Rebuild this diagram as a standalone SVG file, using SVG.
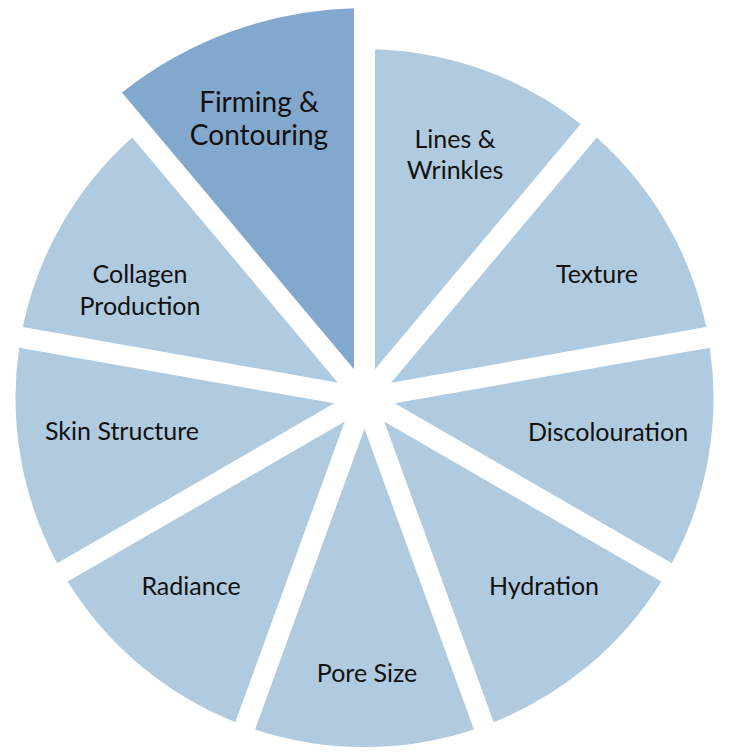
<svg xmlns="http://www.w3.org/2000/svg" width="731" height="754" viewBox="0 0 731 754">
<style>
.s{fill:#B0CBDF}
.hl{fill:#83A8CE}
text{font-family:Lato,"Liberation Sans",sans-serif;font-size:25px;fill:#111;text-anchor:middle}
.big{font-size:28px}
</style>
<rect width="731" height="754" fill="#fff"/>
<g id="lines-wrinkles"><path class="s" d="M375,369.15 L375,49.16 A349,349 0 0 1 580.69,124.02 Z"/><text x="455" y="148">Lines &amp;</text><text x="455" y="179">Wrinkles</text></g>
<g id="texture"><path class="s" d="M391.09,382.65 L596.77,137.52 A349,349 0 0 1 706.22,327.09 Z"/><text x="597" y="283">Texture</text></g>
<g id="discolouration"><path class="s" d="M394.73,403.33 L709.87,347.77 A349,349 0 0 1 671.86,563.33 Z"/><text x="608" y="441">Discolouration</text></g>
<g id="hydration"><path class="s" d="M384.23,421.52 L661.36,581.51 A349,349 0 0 1 493.68,722.21 Z"/><text x="544" y="595">Hydration</text></g>
<g id="pore-size"><path class="s" d="M364.5,428.7 L473.94,729.4 A349,349 0 0 1 255.06,729.4 Z"/><text x="367" y="682">Pore Size</text></g>
<g id="radiance"><path class="s" d="M344.77,421.52 L235.32,722.21 A349,349 0 0 1 67.64,581.51 Z"/><text x="191" y="595">Radiance</text></g>
<g id="skin-structure"><path class="s" d="M334.27,403.33 L57.14,563.33 A349,349 0 0 1 19.14,347.77 Z"/><text x="122" y="440">Skin Structure</text></g>
<g id="collagen-production"><path class="s" d="M337.91,382.65 L22.78,327.09 A349,349 0 0 1 132.23,137.52 Z"/><text x="140" y="283">Collagen</text><text x="140" y="315">Production</text></g>
<g id="firming-contouring"><path class="hl" d="M354,369.15 L121.95,92.6 A390,390 0 0 1 354,8.14 Z"/><text class="big" x="259" y="112">Firming &amp;</text><text class="big" x="259" y="145">Contouring</text></g>
<g id="connectors"></g>
</svg>
